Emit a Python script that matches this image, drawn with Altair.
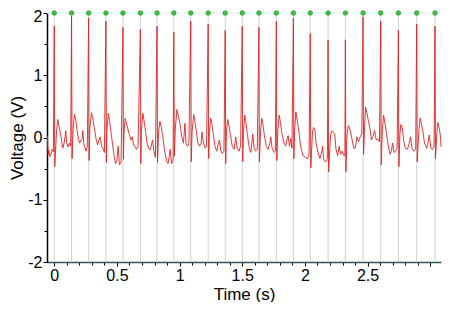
import altair as alt
import pandas as pd

# ECG-like signal (time in s, voltage in V)
times = [
    -0.055, -0.049, -0.043, -0.035, -0.026, -0.016, -0.007,
    0.000, 0.004, 0.018, 0.028, 0.041, 0.054, 0.068, 0.079, 0.092, 0.100, 0.110, 0.120, 0.131,
    0.138, 0.142, 0.151, 0.161, 0.172, 0.182, 0.195, 0.203, 0.213, 0.223, 0.228, 0.236, 0.246, 0.254, 0.264,
    0.274, 0.278, 0.284, 0.297, 0.310, 0.323, 0.336, 0.346, 0.356, 0.366, 0.377, 0.387, 0.400,
    0.412, 0.416, 0.420, 0.431, 0.441, 0.451, 0.464, 0.477, 0.489, 0.500, 0.510, 0.520, 0.533,
    0.548, 0.552, 0.556, 0.566, 0.577, 0.587, 0.597, 0.613, 0.623, 0.633, 0.643, 0.656, 0.669,
    0.687, 0.691, 0.695, 0.707, 0.718, 0.728, 0.741, 0.754, 0.764, 0.774, 0.784, 0.795, 0.807,
    0.820, 0.824, 0.833, 0.843, 0.854, 0.864, 0.879, 0.895, 0.908, 0.918, 0.925, 0.936, 0.948,
    0.954, 0.958, 0.966, 0.979, 0.989, 1.000, 1.018, 1.031, 1.043, 1.051, 1.061, 1.074,
    1.089, 1.093, 1.100, 1.113, 1.123, 1.133, 1.146, 1.159, 1.172, 1.179, 1.190, 1.205, 1.215,
    1.228, 1.232, 1.238, 1.248, 1.259, 1.269, 1.282, 1.297, 1.307, 1.318, 1.328, 1.341, 1.354,
    1.364, 1.368, 1.374, 1.384, 1.395, 1.405, 1.420, 1.436, 1.448, 1.459, 1.474, 1.487,
    1.500, 1.504, 1.510, 1.520, 1.531, 1.541, 1.556, 1.569, 1.584, 1.595, 1.607, 1.620,
    1.633, 1.637, 1.646, 1.656, 1.667, 1.677, 1.692, 1.707, 1.720, 1.728, 1.738, 1.754, 1.764,
    1.772, 1.776, 1.784, 1.795, 1.805, 1.815, 1.831, 1.846, 1.856, 1.866, 1.877, 1.887, 1.897,
    1.908, 1.912, 1.918, 1.928, 1.938, 1.948, 1.966, 1.984, 2.005, 2.020, 2.033,
    2.043, 2.047, 2.061, 2.069, 2.079, 2.089, 2.105, 2.120, 2.133, 2.141, 2.151, 2.166, 2.179,
    2.185, 2.189, 2.205, 2.218, 2.228, 2.238, 2.248, 2.261, 2.274, 2.284, 2.297, 2.310, 2.319,
    2.323, 2.327, 2.336, 2.347, 2.361, 2.377, 2.389, 2.402, 2.415, 2.428, 2.441, 2.454,
    2.464, 2.468, 2.477, 2.484, 2.494, 2.505, 2.518, 2.531, 2.543, 2.556, 2.569, 2.582, 2.595,
    2.605, 2.609, 2.618, 2.628, 2.638, 2.649, 2.664, 2.679, 2.690, 2.700, 2.710, 2.723, 2.736,
    2.746, 2.750, 2.758, 2.766, 2.777, 2.787, 2.800, 2.818, 2.833, 2.843, 2.854, 2.869, 2.884,
    2.892, 2.896, 2.910, 2.920, 2.930, 2.941, 2.954, 2.972, 2.982, 2.992, 3.005, 3.018, 3.031,
    3.038, 3.042, 3.054, 3.061, 3.071, 3.082, 3.086,
]
volts = [
    0.03, -0.28, -0.20, -0.31, -0.27, -0.19, -0.23,
    1.79, -0.47, 0.10, 0.29, 0.15, 0.01, -0.17, -0.09, 0.11, -0.10, -0.15, -0.09, -0.14,
    1.95, -0.34, 0.15, 0.37, 0.28, 0.11, -0.04, -0.09, -0.04, -0.02, 0.11, -0.10, -0.17, -0.22, -0.14,
    1.92, -0.37, 0.15, 0.40, 0.28, 0.11, -0.05, -0.12, -0.04, 0.01, -0.14, -0.17, -0.24,
    1.87, -0.40, 0.10, 0.39, 0.27, 0.11, -0.09, -0.29, -0.42, -0.37, -0.14, -0.44, -0.40,
    1.77, -0.35, 0.05, 0.31, 0.22, 0.14, 0.06, -0.04, 0.01, -0.12, -0.15, -0.19, -0.14,
    1.74, -0.42, 0.10, 0.39, 0.25, 0.10, -0.09, -0.17, -0.20, -0.14, -0.04, -0.22, -0.32,
    1.79, -0.40, 0.10, 0.26, 0.16, 0.05, -0.19, -0.37, -0.42, -0.30, -0.19, -0.42, -0.37,
    1.69, -0.30, 0.15, 0.45, 0.35, 0.26, 0.01, -0.09, 0.23, -0.09, -0.14, -0.12,
    1.87, -0.39, 0.10, 0.37, 0.25, 0.11, -0.09, -0.14, -0.09, 0.09, -0.09, -0.17, -0.14,
    1.82, -0.34, 0.10, 0.31, 0.20, 0.05, -0.14, -0.22, -0.12, -0.04, -0.20, -0.26, -0.22,
    1.72, -0.42, 0.10, 0.29, 0.18, 0.05, -0.14, -0.19, 0.01, -0.17, -0.22, -0.14,
    1.79, -0.39, 0.10, 0.36, 0.22, 0.05, -0.17, -0.24, 0.06, -0.17, -0.22, -0.19,
    1.77, -0.39, 0.10, 0.31, 0.18, 0.03, -0.14, -0.19, -0.09, 0.01, -0.17, -0.24, -0.22,
    1.87, -0.37, 0.12, 0.36, 0.24, 0.08, -0.07, -0.14, -0.04, 0.03, -0.14, -0.02, -0.17,
    1.92, -0.34, 0.12, 0.41, 0.28, 0.16, -0.14, -0.29, -0.32, -0.34, -0.27,
    1.67, -0.49, 0.10, 0.16, 0.13, -0.09, -0.24, -0.34, -0.24, -0.14, -0.37, -0.39, -0.34,
    1.57, -0.55, 0.05, 0.11, 0.08, 0.06, -0.19, -0.29, -0.14, -0.27, -0.22, -0.29, -0.29,
    1.57, -0.55, 0.05, 0.19, 0.12, -0.04, -0.17, -0.17, 0.01, -0.07, 0.01, 0.06,
    1.94, -0.27, 0.20, 0.49, 0.40, 0.28, 0.16, -0.04, 0.01, 0.11, -0.04, -0.02, -0.07,
    1.87, -0.44, 0.12, 0.36, 0.24, 0.10, -0.12, -0.27, -0.22, -0.09, -0.24, -0.22, -0.17,
    1.72, -0.47, 0.05, 0.21, 0.15, -0.04, -0.17, -0.19, -0.09, 0.01, -0.17, -0.22, -0.19,
    1.82, -0.39, 0.12, 0.31, 0.22, 0.11, -0.09, -0.17, -0.09, 0.04, -0.17, -0.19, -0.14,
    1.79, -0.34, 0.10, 0.24, 0.16, 0.02, -0.15,
]
peak_times = [
    0.000, 0.138, 0.274, 0.412, 0.548, 0.687, 0.820, 0.954, 1.089, 1.228, 1.364, 1.500,
    1.633, 1.772, 1.908, 2.043, 2.185, 2.323, 2.464, 2.605, 2.746, 2.892, 3.038,
]
marker_level = [2.0]
x_tick_values = [0, 0.1, 0.2, 0.3, 0.4, 0.5, 0.6, 0.7, 0.8, 0.9, 1, 1.1, 1.2, 1.3, 1.4, 1.5,
                 1.6, 1.7, 1.8, 1.9, 2, 2.1, 2.2, 2.3, 2.4, 2.5, 2.6, 2.7, 2.8, 2.9, 3]
y_tick_values = [-2, -1.5, -1, -0.5, 0, 0.5, 1, 1.5, 2]

W, H = 394, 249
FONT = "Liberation Sans"

sig = pd.DataFrame({"t": times, "v": volts})
peaks = pd.DataFrame({"t": peak_times, "v": marker_level * len(peak_times)})
hline = pd.DataFrame({"v": marker_level})

x_scale = alt.Scale(domain=[-0.058, 3.086], nice=False, zero=False)
y_scale = alt.Scale(domain=[-2, 2], nice=False, zero=False)

x_major = "abs(datum.value*2 - round(datum.value*2)) < 0.001"
x_axis = alt.Axis(
    values=x_tick_values, title="Time (s)", grid=False,
    labelExpr=f"({x_major}) && datum.value < 2.9 ? '' + datum.value : ''",
    tickSize={"condition": {"test": x_major, "value": 4}, "value": 3},
    labelFlush=False, labelOverlap=False,
    domainColor="#2e5656", domainWidth=1.5, tickColor="black",
    labelFont=FONT, labelFontSize=16, labelColor="black", labelPadding=1,
    titleFont=FONT, titleFontSize=17, titleFontWeight="normal", titleColor="black",
    titlePadding=3,
)
y_major = "datum.value % 1 == 0"
y_axis = alt.Axis(
    values=y_tick_values, title="Voltage (V)", grid=False,
    labelExpr=f"{y_major} ? '' + datum.value : ''",
    tickSize={"condition": {"test": y_major, "value": 4}, "value": 3},
    labelOffset={"condition": {"test": "datum.value == 2", "value": 3}, "value": 0},
    labelFlush=False, labelOverlap=False,
    domainColor="black", domainWidth=1.5, tickColor="black",
    labelFont=FONT, labelFontSize=16, labelColor="black", labelPadding=1,
    titleFont=FONT, titleFontSize=17, titleFontWeight="normal", titleColor="black",
    titlePadding=1,
)

vrules = alt.Chart(peaks).mark_rule(color="#d2d2d2", strokeWidth=1).encode(
    x=alt.X("t:Q", scale=x_scale, axis=x_axis),
    y=alt.value(0),
    y2=alt.value(H),
)
top_line = alt.Chart(hline).mark_rule(color="#d4f6f6", strokeWidth=1.2).encode(
    y=alt.Y("v:Q", scale=y_scale, axis=y_axis),
)
signal = alt.Chart(sig).mark_line(color="#e02424", strokeWidth=0.9).encode(
    x=alt.X("t:Q", scale=x_scale, axis=x_axis),
    y=alt.Y("v:Q", scale=y_scale, axis=y_axis),
)
dots = alt.Chart(peaks).mark_point(
    filled=True, shape="circle", size=20, color="#3ec73e", stroke="#1f8f1f",
    strokeWidth=0.7, opacity=1,
).encode(
    x=alt.X("t:Q", scale=x_scale, axis=x_axis),
    y=alt.Y("v:Q", scale=y_scale, axis=y_axis),
)

chart = alt.layer(vrules, top_line, signal, dots).properties(
    width=W, height=H,
    autosize=alt.AutoSizeParams(type="none"),
    padding={"left": 39, "top": 5, "right": 1, "bottom": 40},
    background="white",
).configure_view(stroke=None)

chart.save("out.html", embed_options={"renderer": "svg", "actions": False})
